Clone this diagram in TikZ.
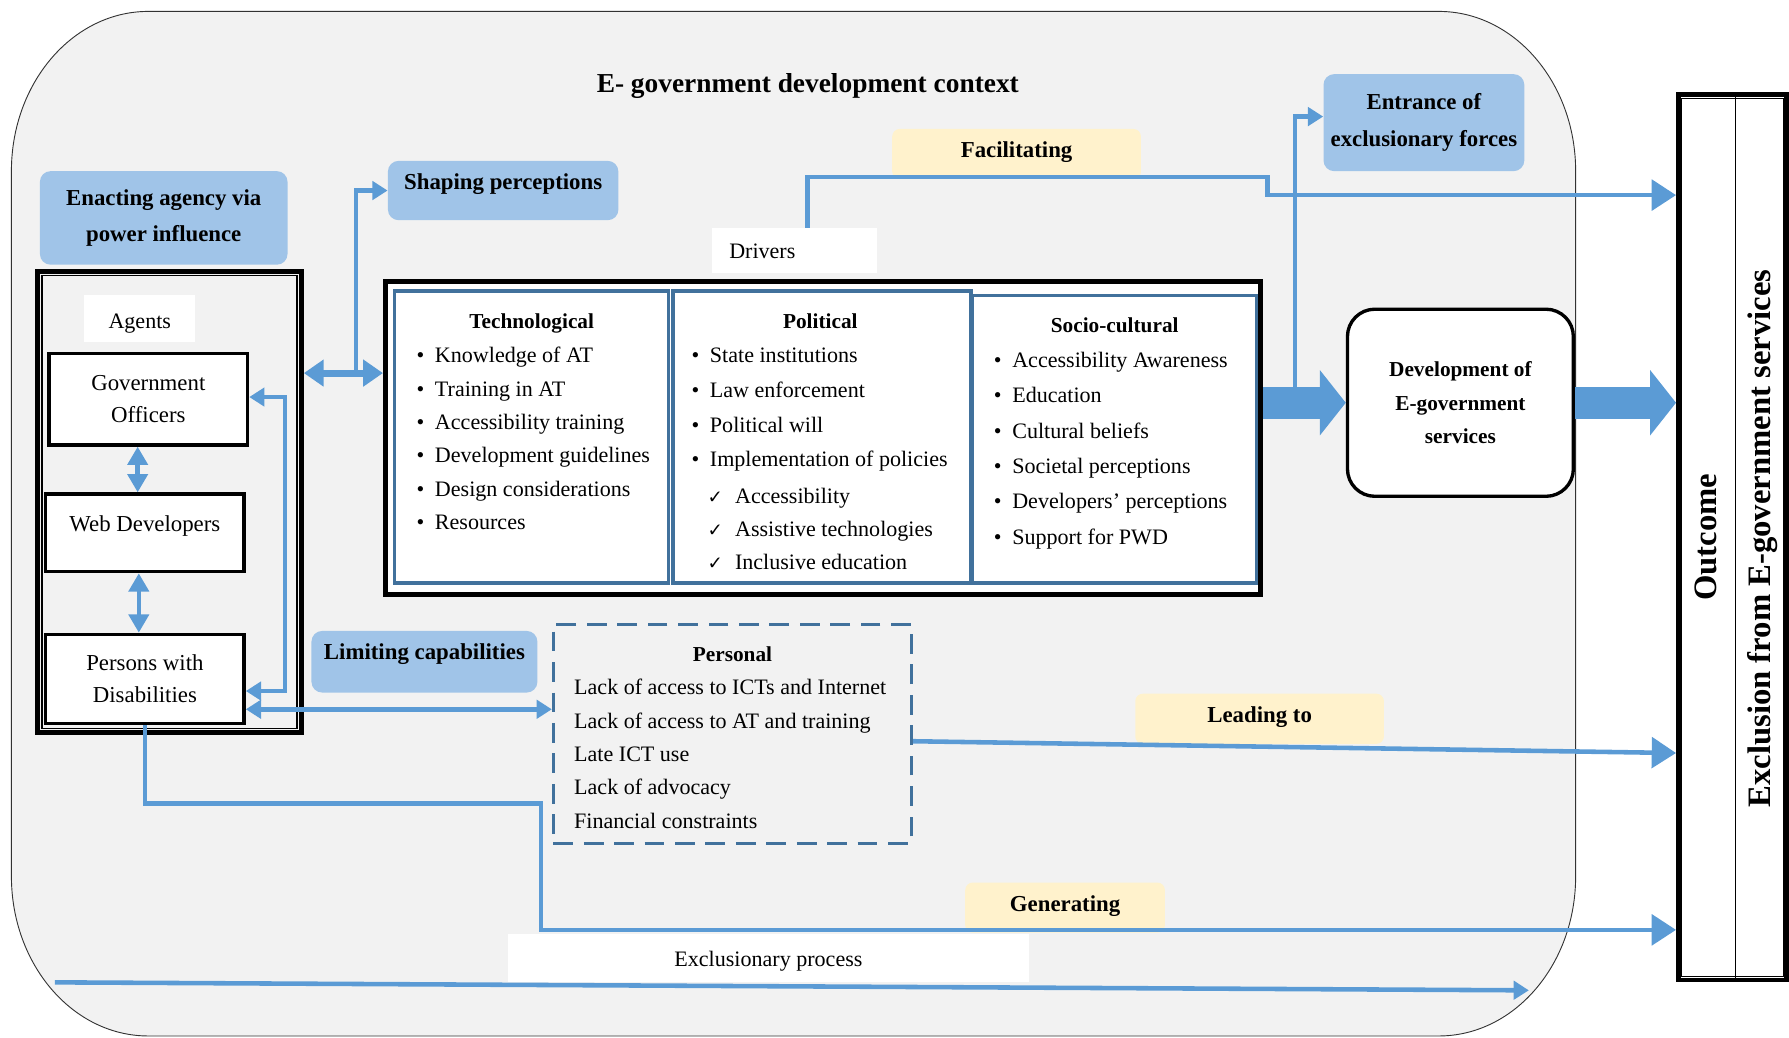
\documentclass[tikz,border=0pt]{standalone}
\usepackage{fontspec}
\setmainfont{Liberation Serif}
\newfontfamily\symfont{DejaVu Sans}
\usepackage{tikz}
\usetikzlibrary{arrows.meta,calc}
\usepackage{xcolor}

\definecolor{bggray}{RGB}{242,242,242}
\definecolor{flowblue}{RGB}{91,155,213}
\definecolor{boxblue}{RGB}{160,196,232}
\definecolor{boxyellow}{RGB}{255,242,204}
\definecolor{colblue}{RGB}{65,113,156}

\newcommand{\checkmk}{{\symfont\fontsize{12}{12}\selectfont ✓}}

\tikzset{
  bluebox/.style={fill=boxblue, rounded corners=7pt, inner sep=0pt, font=\fontsize{15}{24}\selectfont\bfseries},
  yellowbox/.style={fill=boxyellow, rounded corners=5pt, inner sep=0pt, text height=18.75pt, text depth=14.25pt, font=\fontsize{15}{18}\selectfont\bfseries},
  whitelbl/.style={fill=white, inner sep=0pt, font=\fontsize{14.5}{18}\selectfont},
  agentbox/.style={draw, line width=2.2pt, fill=white, inner sep=0pt, minimum width=130.5pt, font=\fontsize{15}{21}\selectfont},
  column/.style={draw=colblue, line width=2.2pt, fill=white, inner sep=0pt},
  colhead/.style={anchor=base, inner sep=0pt, font=\fontsize{14}{16}\selectfont\bfseries},
  listitem/.style={anchor=base west, inner sep=0pt, font=\fontsize{14.5}{16}\selectfont},
  flow/.style={draw=flowblue, line width=3pt},
  tipS/.style={arrows={-Triangle[length=10pt,width=12pt]}},
  tipSS/.style={arrows={Triangle[length=10pt,width=12pt]-Triangle[length=10pt,width=12pt]}},
  tipMM/.style={arrows={Triangle[length=12pt,width=13pt]-Triangle[length=12pt,width=13pt]}},
  tipHH/.style={arrows={Triangle[length=13pt,width=17pt]-Triangle[length=13pt,width=17pt]}},
  tipL/.style={arrows={-Triangle[length=16pt,width=20pt]}},
  blockarrow/.style={draw=flowblue, line width=21pt, arrows={-Triangle[length=17pt,width=42pt]}},
}

\begin{document}
\begin{tikzpicture}[x=0.75pt,y=0.75pt,yscale=-1,xscale=1]
\useasboundingbox (0,0) rectangle (1568,909);

%Shape: Rounded frame of the context
\draw [draw=black!80, line width=0.6pt, fill=bggray] (10,150) .. controls (10,72.7) and (63.7,10) .. (130,10) -- (1261,10) .. controls (1327.3,10) and (1381,72.7) .. (1381,150) -- (1381,768) .. controls (1381,845.3) and (1327.3,908) .. (1261,908) -- (130,908) .. controls (63.7,908) and (10,845.3) .. (10,768) -- cycle ;

% Text Node
\node [anchor=base, inner sep=0pt, font=\fontsize{18}{20}\selectfont\bfseries] (title) at (708,81) {E- government development context};

%Shape: Blue labels
\node [bluebox, align=center, minimum width=162.75pt, minimum height=61.5pt] (enacting) at (143.5,191) {Enacting agency via\\power influence};
\node [bluebox, minimum width=151.5pt, text height=18.75pt, text depth=20.25pt] (shaping) at (441,167) {Shaping perceptions};
\node [bluebox, align=center, minimum width=132pt, minimum height=63.75pt] (entrance) at (1248,107.5) {Entrance of\\exclusionary forces};
\node [bluebox, minimum width=148.5pt, text height=18.75pt, text depth=21.75pt] (limiting) at (372,580) {Limiting capabilities};

%Shape: Yellow labels
\node [yellowbox, minimum width=163.5pt] (facilitating) at (891,135) {Facilitating};
\node [yellowbox, minimum width=163.5pt] (leading) at (1104,630) {Leading to};
\node [yellowbox, minimum width=131.25pt] (generating) at (933.5,795.5) {Generating};

%Shape: White labels
\node [whitelbl, text width=86pt, inner xsep=11.25pt, text height=20.25pt, text depth=9pt] (drivlbl) at (696.5,219.5) {Drivers};
\node [whitelbl, minimum width=72.75pt, text height=22pt, text depth=8.75pt] (agentlbl) at (122.5,279) {Agents};
\node [whitelbl, minimum width=342.75pt, text height=21pt, text depth=10.5pt] (proclbl) at (673.5,840) {Exclusionary process};

%Shape: Agents frame
\node [draw, line width=3.5pt, minimum width=173.25pt, minimum height=303pt, inner sep=0pt] (agents) at (148.5,440) {};
\draw [line width=1pt] ([shift={(6,6)}]agents.north west) rectangle ([shift={(-6,-6)}]agents.south east);
\node [agentbox, align=center, minimum height=60pt] (gov) at (130,350) {Government\\Officers};
\node [agentbox, text height=24.75pt, text depth=26.25pt] (web) at (127,467) {Web Developers};
\node [agentbox, align=center, minimum height=58.5pt] (pwd) at (127,595) {Persons with\\Disabilities};

%Shape: Drivers frame and columns
\node [draw, line width=3.5pt, fill=white, minimum width=575.25pt, minimum height=205.5pt, inner sep=0pt] (drivers) at (721.5,384) {};
\node [column, minimum width=180pt, minimum height=192pt] (techcol) at (466,383) {};
\node [column, minimum width=195.75pt, minimum height=192pt] (polcol) at (720.5,383) {};
\node [column, minimum width=186.75pt, minimum height=189pt] (soccol) at (976.5,385) {};

% Text Node
\node [colhead] (techhead) at (466,288) {Technological};
\foreach \txt [count=\i] in {Knowledge of AT, Training in AT, Accessibility training, Development guidelines, Design considerations, Resources}
  \node [listitem] (tech\i) at (381,{318+29.2*(\i-1)}) {\llap{\textbullet\hspace{7pt}}\txt};

% Text Node
\node [colhead] (polhead) at (719,288) {Political};
\foreach \txt [count=\i] in {State institutions, Law enforcement, Political will, Implementation of policies}
  \node [listitem] (pol\i) at (622,{318+30.4*(\i-1)}) {\llap{\textbullet\hspace{7pt}}\txt};
\foreach \txt [count=\i] in {Accessibility, Assistive technologies, Inclusive education}
  \node [listitem] (polsub\i) at (644,{441+29*(\i-1)}) {\llap{\checkmk\hspace{8pt}}\txt};

% Text Node
\node [colhead] (sochead) at (977,291) {Socio-cultural};
\foreach \txt [count=\i] in {Accessibility Awareness, Education, Cultural beliefs, Societal perceptions, Developers' perceptions, Support for PWD}
  \node [listitem] (soc\i) at (887,{322+31*(\i-1)}) {\llap{\textbullet\hspace{7pt}}\txt};

%Shape: Development box
\node [draw, line width=2.2pt, fill=white, rounded corners=18pt, minimum width=148.5pt, minimum height=123pt, align=center, inner sep=0pt, font=\fontsize{14}{22}\selectfont\bfseries] (devbox) at (1280,353) {Development of\\E-government\\services};

%Shape: Outcome box
\node [draw, line width=3pt, fill=white, minimum width=71.25pt, minimum height=582pt, inner sep=0pt] (outcome) at (1518.5,471) {};
\draw [line width=0.8pt] ([shift={(5,5)}]outcome.north west) rectangle ([shift={(-5,-5)}]outcome.south east);
\draw [line width=0.8pt] ([xshift=1.9pt]outcome.north) -- ([xshift=1.9pt]outcome.south);
\node [rotate=90, inner sep=0pt, font=\fontsize{21.5}{24}\selectfont\bfseries] (outtxt) at (1495,471) {Outcome};
\node [rotate=90, inner sep=0pt, font=\fontsize{21.5}{24}\selectfont\bfseries] (excltxt) at (1545,472) {Exclusion from E-government services};

%Shape: Personal factors
\node [draw=colblue, line width=2pt, dash pattern=on 13pt off 7pt, minimum width=235.5pt, minimum height=144pt, inner sep=0pt] (personal) at (642,643) {};
\node [colhead] (perhead) at (642,580) {Personal};
\foreach \txt [count=\i] in {Lack of access to ICTs and Internet, Lack of access to AT and training, Late ICT use, Lack of advocacy, Financial constraints}
  \node [listitem] (per\i) at (503,{609+29.2*(\i-1)}) {\txt};

%Straight Lines: between the agents
\draw [flow, tipMM] ([xshift=-7pt]gov.south) -- ([xshift=-7pt]gov.south |- web.north);
\draw [flow, tipMM] ([xshift=-4pt]web.south) -- ([xshift=-4pt]web.south |- pwd.north);
\coordinate (fbtop) at (250,348);
\draw [flow, line width=2.6pt, tipSS] (gov.east |- fbtop) -- (fbtop) |- ([yshift=8pt]pwd.east);

%Straight Lines: agents and drivers
\coordinate (hub) at (312,327);
\draw [flow, line width=4.5pt, tipHH] (agents.east |- hub) -- (drivers.west |- hub);
\draw [flow, tipS] (hub) |- (shaping.west);
\draw [flow, tipSS] ([yshift=20pt]pwd.east) -- ([yshift=20pt]pwd.east -| personal.west);

%Straight Lines: towards the outcome
\coordinate (facbend) at (1111,155);
\coordinate (facrow) at (1111,171);
\draw [flow, tipL] ([xshift=8.6pt]drivlbl.north) |- (facbend) -- (facrow) -- (facrow -| outcome.west);
\draw [blockarrow] (drivers.east |- devbox.west) -- (devbox.west);
\draw [blockarrow] (devbox.east) -- (outcome.west |- devbox.east);
\coordinate (entfoot) at (1135,339);
\draw [flow, tipS] (entfoot) |- ([yshift=-4pt]entrance.west);
\coordinate (leadrow) at (1471,660);
\draw [flow, tipL] ([yshift=5pt]personal.east) -- (outcome.west |- leadrow);
\coordinate (genbend) at (474,704);
\coordinate (genrow) at (474,815);
\draw [flow, tipL] (pwd.south) |- (genbend) -- (genrow) -- (genrow -| outcome.west);

%Straight Lines: exclusionary process
\coordinate (procstart) at (48,861);
\coordinate (procend) at (1340,868);
\draw [flow, tipS] (procstart) -- (procend);

\end{tikzpicture}
\end{document}
